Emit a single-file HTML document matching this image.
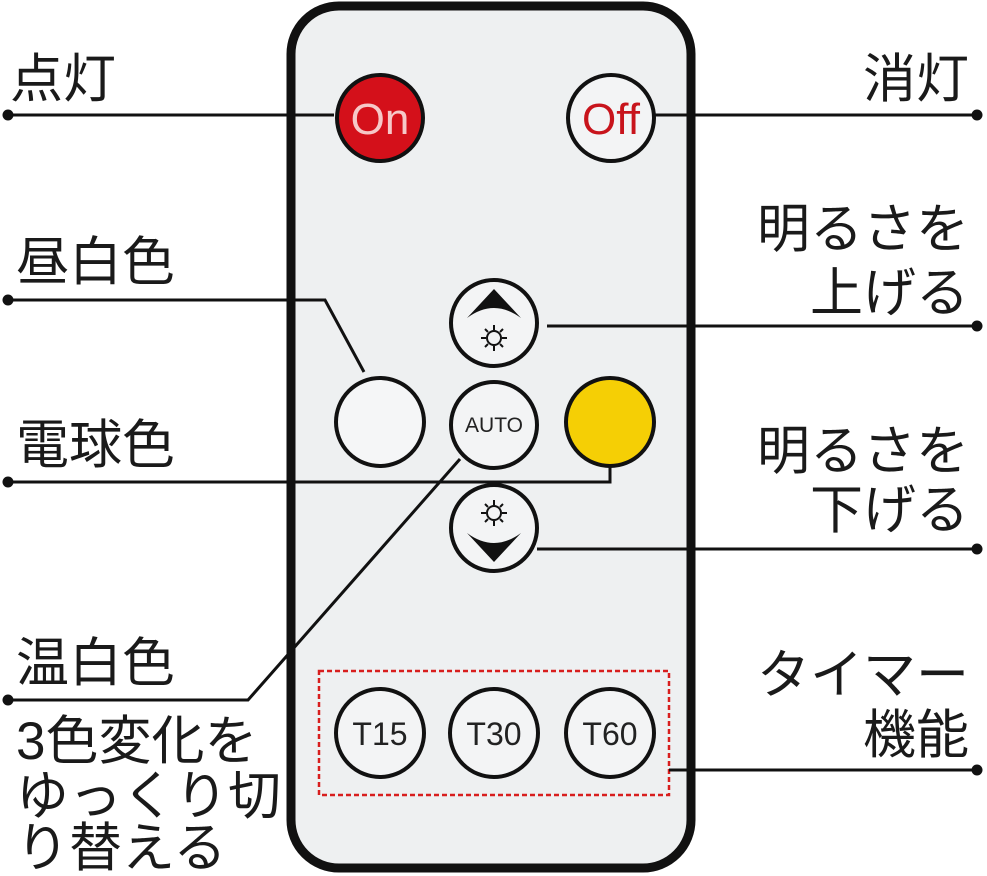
<!DOCTYPE html>
<html><head><meta charset="utf-8"><style>
html,body{margin:0;padding:0;background:#fff;}
svg{display:block}
text{font-family:"Liberation Sans","Noto Sans CJK JP",sans-serif;}
.j{font-size:53px;fill:#1a1a1a;}
.b{font-family:"Liberation Sans",sans-serif;}
</style></head><body>
<svg width="987" height="876" viewBox="0 0 987 876" xmlns="http://www.w3.org/2000/svg">
<rect x="0" y="0" width="987" height="876" fill="#fff"/>
<rect x="291" y="6" width="400" height="862" rx="48" fill="#eef0f1" stroke="#111" stroke-width="9"/>
<g stroke="#111" stroke-width="4">
<circle cx="380" cy="118" r="43" fill="#d4101a"/>
<circle cx="611" cy="118" r="43" fill="#f3f4f5"/>
<circle cx="494" cy="323" r="43" fill="#f3f4f5"/>
<circle cx="380" cy="422" r="44" fill="#f5f6f7"/>
<circle cx="494" cy="425" r="43" fill="#f3f4f5"/>
<circle cx="610" cy="422" r="44" fill="#f5cf05"/>
<circle cx="494" cy="528" r="43" fill="#f3f4f5"/>
<circle cx="380" cy="733" r="44" fill="#f3f4f5"/>
<circle cx="494" cy="733" r="44" fill="#f3f4f5"/>
<circle cx="610" cy="733" r="44" fill="#f3f4f5"/>
</g>
<text x="380" y="134" text-anchor="middle" class="b" font-size="44" fill="#f6c8c8">On</text>
<text x="611" y="134" text-anchor="middle" class="b" font-size="44" fill="#c8141c">Off</text>
<text x="494" y="432" text-anchor="middle" class="b" font-size="21" fill="#222">AUTO</text>
<text x="380" y="745" text-anchor="middle" class="b" font-size="32" fill="#222">T15</text>
<text x="494" y="745" text-anchor="middle" class="b" font-size="32" fill="#222">T30</text>
<text x="610" y="745" text-anchor="middle" class="b" font-size="32" fill="#222">T60</text>
<path d="M467 318 Q494 298 521 318 L494 289 Z" fill="#111"/>
<path d="M467 533 Q494 553 521 533 L494 562 Z" fill="#111"/>
<g stroke="#111" stroke-width="2" fill="none">
<circle cx="494" cy="338" r="7"/>
<path d="M494 325v5M494 346v5M481 338h5M502 338h5M485 329l3 3M503 329l-3 3M485 347l3-3M503 347l-3-3"/>
<circle cx="494" cy="513" r="7"/>
<path d="M494 500v5M494 521v5M481 513h5M502 513h5M485 504l3 3M503 504l-3 3M485 522l3-3M503 522l-3-3"/>
</g>
<rect x="319" y="671" width="350" height="124" fill="none" stroke="#d81e1e" stroke-width="2.5" stroke-dasharray="5,3"/>
<g stroke="#111" stroke-width="3" fill="none">
<path d="M8 115H334"/>
<path d="M655 115H977"/>
<path d="M8 300H325L364 372"/>
<path d="M8 482H610V467"/>
<path d="M547 326H977"/>
<path d="M537 549H977"/>
<path d="M8 700H248L460 459"/>
<path d="M669 770H977"/>
</g>
<g fill="#111">
<circle cx="8" cy="115" r="5.5"/><circle cx="977" cy="115" r="5.5"/>
<circle cx="8" cy="300" r="5.5"/><circle cx="8" cy="482" r="5.5"/>
<circle cx="977" cy="326" r="5.5"/><circle cx="977" cy="549" r="5.5"/>
<circle cx="8" cy="700" r="5.5"/><circle cx="977" cy="770" r="5.5"/>
</g>
<text x="10" y="97" class="j">点灯</text>
<text x="969" y="97" class="j" text-anchor="end">消灯</text>
<text x="16" y="280" class="j">昼白色</text>
<text x="16" y="463" class="j">電球色</text>
<text x="16" y="681" class="j">温白色</text>
<text x="16" y="759" class="j" font-size="48">3色変化を</text>
<text x="16" y="814" class="j" font-size="48">ゆっくり切</text>
<text x="16" y="866" class="j" font-size="48">り替える</text>
<text x="969" y="247" class="j" text-anchor="end">明るさを</text>
<text x="969" y="311" class="j" text-anchor="end">上げる</text>
<text x="969" y="469" class="j" text-anchor="end">明るさを</text>
<text x="969" y="528" class="j" text-anchor="end">下げる</text>
<text x="969" y="693" class="j" text-anchor="end">タイマー</text>
<text x="969" y="753" class="j" text-anchor="end">機能</text>
</svg>
</body></html>
